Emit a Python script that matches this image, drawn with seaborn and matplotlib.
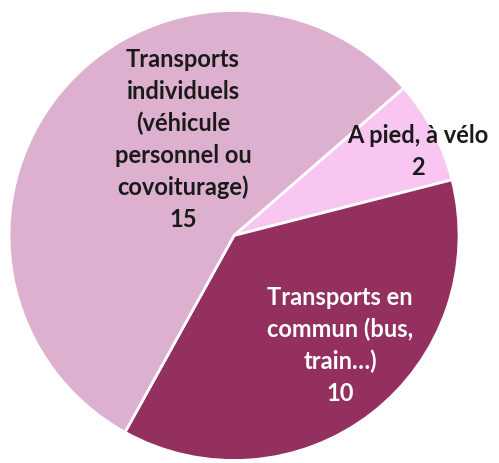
import matplotlib
matplotlib.use("Agg")
import matplotlib.pyplot as plt
import seaborn as sns

# mode de transport -> nombre de réponses
categories = ["A pied, à vélo", "Transports en\ncommun (bus,\ntrain…)",
              "Transports\nindividuels\n(véhicule\npersonnel ou\ncovoiturage)"]
values = [2, 10, 15]
colors = ["#F9C6F2", "#93305F", "#DDB0CF"]
text_colors = ["#1a1a1a", "white", "#1a1a1a"]

sns.set_style("white")
plt.rcParams['font.family'] = ['Lato', 'DejaVu Sans']

fig = plt.figure(figsize=(4.99, 4.63), dpi=100)
ax = fig.add_axes([0.018, 0.0054, 0.902, 0.972])

wedges, _ = ax.pie(
    values,
    colors=colors,
    startangle=41,
    counterclock=False,
    radius=1.0,
    wedgeprops={'edgecolor': 'white', 'linewidth': 2},
)

# label positions picked by hand to match the original layout
label_pos = [(0.818, 0.373), (0.471, -0.489), (-0.227, 0.427)]
for cat, val, (x, y), tc in zip(categories, values, label_pos, text_colors):
    ax.text(x, y, f"{cat}\n{val}", ha='center', va='center',
            fontsize=17, fontweight='bold', color=tc, linespacing=1.45)

ax.set_xlim(-1, 1)
ax.set_ylim(-1, 1)
ax.set_aspect('equal')
ax.axis('off')

fig.savefig("out.png", dpi=100)
plt.close(fig)
